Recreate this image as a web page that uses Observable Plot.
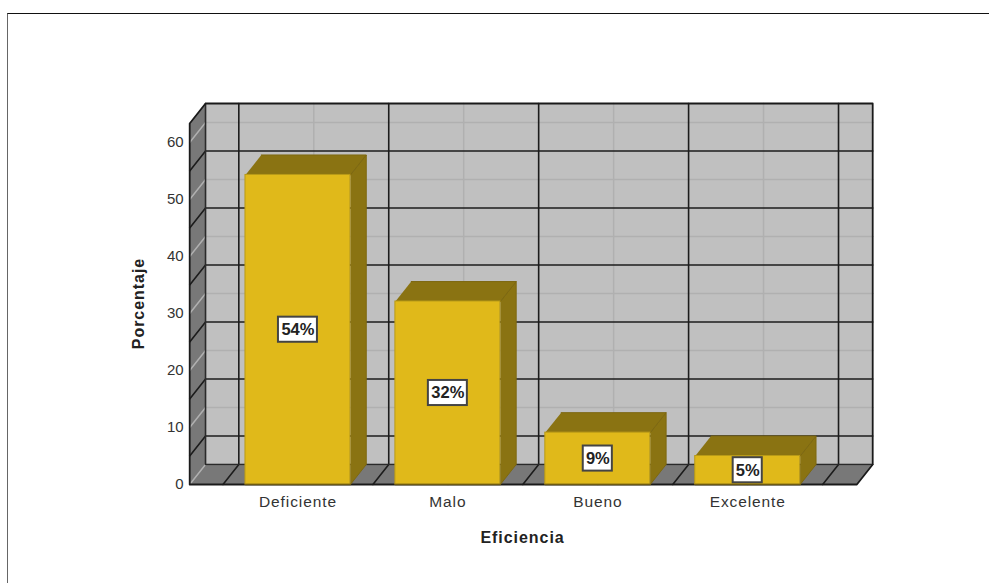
<!DOCTYPE html>
<html><head><meta charset="utf-8">
<script src="https://cdn.jsdelivr.net/npm/d3@7"></script>
<script src="https://cdn.jsdelivr.net/npm/@observablehq/plot@0.6"></script>
<style>
html,body{margin:0;padding:0;background:#fff;overflow:hidden}
#frame{position:absolute;left:7px;top:13px;width:982px;height:570px;border-top:1px solid #111;border-left:1.5px solid #666;box-sizing:border-box}
#chart{position:absolute;left:0;top:0}
svg{display:block;background:transparent}
.axis-text{letter-spacing:0.9px}
.title-text{letter-spacing:0.95px}
</style></head><body>
<div id="frame"></div><div id="chart"></div>
<script>
const categories = ["Deficiente","Malo","Bueno","Excelente"];
const values = [54.3,32.1,9.1,5.0];
const labels = ["54%","32%","9%","5%"];
const yTicks = [0,10,20,30,40,50,60];
const yMax = 63.33;
const xMin = -0.722, xMax = 3.728;
const barHalf = 0.35;
const depthX = 0.1056, depthY = 3.5;   // depth of the 3D box, in data units
const idx = categories.map((_,i)=>i);

const back = (x,y)=>({x:x+depthX,y:y+depthY});
const front = (x,y)=>({x,y});
const poly = (...p)=>p;

const wall = poly(back(xMin,0),back(xMax,0),back(xMax,yMax),back(xMin,yMax));
const leftFace = poly(front(xMin,0),back(xMin,0),back(xMin,yMax),front(xMin,yMax));
const floor = poly(front(xMin,0),front(xMax,0),back(xMax,0),back(xMin,0));
const outline = poly(front(xMin,0),front(xMin,yMax),back(xMin,yMax),back(xMax,yMax),back(xMax,0),front(xMax,0),front(xMin,0));
const innerEdge = poly(back(xMin,yMax),back(xMin,0),back(xMax,0));

const majorY = [5,15,25,35,45,55];          // dark gridlines sit between ticks
const boundaries = [-0.5,0.5,1.5,2.5,3.5];  // dark verticals between categories

const grid = (ys,xs)=>[
  ...ys.map(y=>[front(xMin,y),back(xMin,y),back(xMax,y)]),
  ...xs.map(x=>[front(x,0),back(x,0),back(x,yMax)])
];
const lightPaths = grid(yTicks,idx);
const darkPaths = grid(majorY,boundaries);
const pathMark = (paths,o)=>paths.map(p=>Plot.line(p,{x:"x",y:"y",...o}));

const faceTop = i=>poly(front(i-barHalf,values[i]),front(i+barHalf,values[i]),back(i+barHalf,values[i]),back(i-barHalf,values[i]));
const faceSide = i=>poly(front(i+barHalf,0),back(i+barHalf,0),back(i+barHalf,values[i]),front(i+barHalf,values[i]));
const olive="#8a7312", gold="#e0b91a", edge="#7d6811";

const boxW = l=> l.length===3?0.13:0.097;
const boxH = 2.2;
const sans = "'Liberation Sans',Arial,sans-serif";

const plot = Plot.plot({
  width:989,height:583,margin:0,
  x:{type:"linear",domain:[xMin,xMax+depthX],range:[189.2,872.2],axis:null},
  y:{type:"linear",domain:[0,yMax+depthY],range:[484,103],axis:null},
  style:{fontFamily:sans,background:"transparent",overflow:"visible"},
  marks:[
    Plot.line(wall,{x:"x",y:"y",fill:"#c0c0c0",stroke:"none"}),
    Plot.line(leftFace,{x:"x",y:"y",fill:"#787878",stroke:"none"}),
    Plot.line(floor,{x:"x",y:"y",fill:"#787878",stroke:"none"}),
    ...pathMark(lightPaths,{stroke:"#b0b0b0",strokeWidth:1.5}),
    ...pathMark(darkPaths,{stroke:"#1c1c1c",strokeWidth:1.6}),
    Plot.line(innerEdge,{x:"x",y:"y",stroke:"#2a2a2a",strokeWidth:1.6}),
    Plot.line(outline,{x:"x",y:"y",stroke:"#1a1a1a",strokeWidth:1.8}),
    ...idx.flatMap(i=>[
      Plot.line(faceSide(i),{x:"x",y:"y",fill:olive,stroke:edge,strokeWidth:1}),
      Plot.line(faceTop(i),{x:"x",y:"y",fill:olive,stroke:edge,strokeWidth:1})
    ]),
    Plot.rect(idx,{x1:i=>i-barHalf,x2:i=>i+barHalf,y1:0,y2:i=>values[i],fill:gold,stroke:"#b89a18",strokeWidth:1}),
    ...idx.map(i=>Plot.line([front(i-barHalf,0),front(i+barHalf,0)],{x:"x",y:"y",stroke:"#6d5a10",strokeWidth:1.5})),
    Plot.rect(idx,{x1:i=>i-boxW(labels[i]),x2:i=>i+boxW(labels[i]),y1:i=>values[i]/2-boxH,y2:i=>values[i]/2+boxH,fill:"#fff",stroke:"#444",strokeWidth:2}),
    Plot.text(idx,{x:i=>i,y:i=>values[i]/2,text:i=>labels[i],fontSize:16.5,fontWeight:"bold",fill:"#222",textAnchor:"middle",lineAnchor:"middle"}),
    Plot.text(idx,{x:i=>i,y:0,dy:18,text:i=>categories[i],lineAnchor:"middle",fontSize:15.5,fill:"#333",className:"axis-text"}),
    Plot.text(["Eficiencia"],{x:(xMin+xMax)/2-0.005,y:0,dy:53,text:d=>d,lineAnchor:"middle",fontSize:16,fontWeight:"bold",fill:"#222",className:"title-text"}),
    Plot.text(yTicks,{x:xMin,y:d=>d,dx:-6,text:d=>String(d),textAnchor:"end",fontSize:15,fill:"#333",lineAnchor:"middle"}),
    Plot.text(["Porcentaje"],{x:xMin,y:31.75,dx:-51,rotate:-90,text:d=>d,lineAnchor:"middle",fontSize:16,fontWeight:"bold",fill:"#222",className:"title-text"})
  ]
});
document.getElementById("chart").appendChild(plot);
</script></body></html>
